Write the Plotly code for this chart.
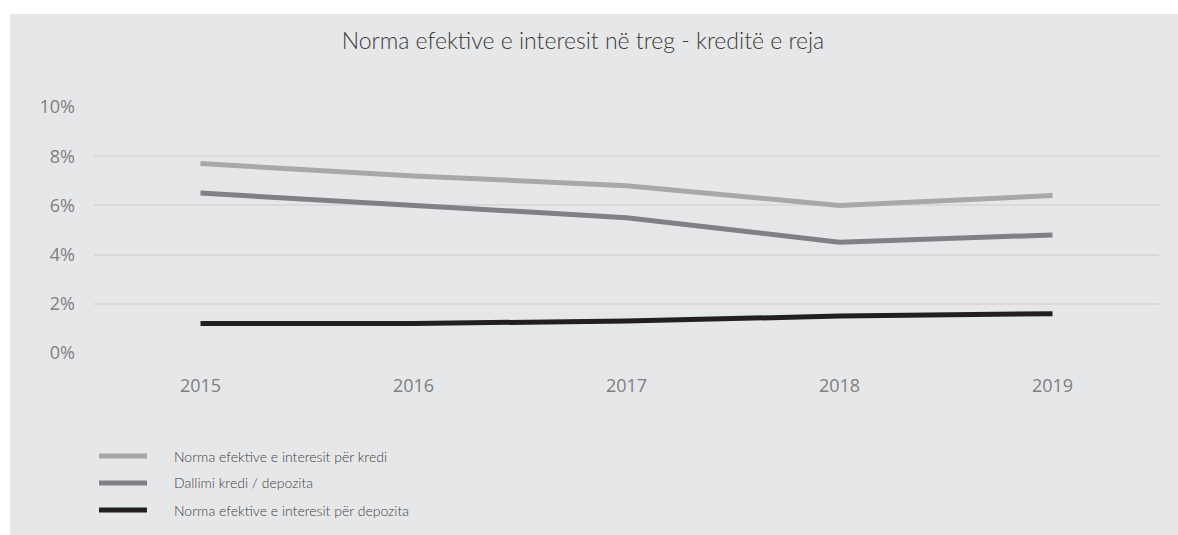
import plotly.graph_objects as go

# Data
years = ["2015", "2016", "2017", "2018", "2019"]
kredi = [7.7, 7.2, 6.8, 6.0, 6.4]          # Norma efektive e interesit për kredi
dallimi = [6.5, 6.0, 5.5, 4.5, 4.8]        # Dallimi kredi / depozita
depozita = [1.2, 1.2, 1.3, 1.5, 1.6]       # Norma efektive e interesit për depozita
y_ticks = [0, 2, 4, 6, 8, 10]
y_tick_labels = ["0%", "2%", "4%", "6%", "8%", "10%"]

series = [
    ("Norma efektive e interesit për kredi", kredi, "#a7a8aa"),
    ("Dallimi kredi / depozita", dallimi, "#808184"),
    ("Norma efektive e interesit për depozita", depozita, "#231f20"),
]

W, H = 1178, 535
L, R, T, B = 94, 1159, 107, 353  # plot area in pixels
BG = "#e6e7e9"


def px_x(px):
    return (px - L) / (R - L)


def px_y(py):
    return (B - py) / (B - T)


fig = go.Figure()
for name, vals, color in series:
    fig.add_trace(go.Scatter(
        x=years, y=vals, mode="lines", name=name,
        line=dict(color=color, width=5),
        showlegend=False,
    ))

shapes = [
    # white border strips around the grey panel
    dict(type="rect", xref="paper", yref="paper", layer="below",
         x0=px_x(-5), x1=px_x(10), y0=px_y(H + 5), y1=px_y(-5),
         fillcolor="white", line=dict(width=0)),
    dict(type="rect", xref="paper", yref="paper", layer="below",
         x0=px_x(-5), x1=px_x(W + 5), y0=px_y(14), y1=px_y(-5),
         fillcolor="white", line=dict(width=0)),
]
annotations = []

# legend rows
rows_y = [456, 483, 510]
for (name, vals, color), ry in zip(series, rows_y):
    shapes.append(dict(
        type="line", xref="paper", yref="paper",
        x0=px_x(99), x1=px_x(147), y0=px_y(ry), y1=px_y(ry),
        line=dict(color=color, width=5),
    ))
    annotations.append(dict(
        xref="paper", yref="paper", x=px_x(172), y=px_y(ry),
        xanchor="left", yanchor="middle", showarrow=False,
        text=name, font=dict(family="Lato", size=14, color="#404040", weight=300),
    ))

fig.update_layout(
    width=W, height=H,
    margin=dict(l=L, r=W - R, t=T, b=H - B, autoexpand=False),
    paper_bgcolor=BG, plot_bgcolor=BG,
    title=dict(
        text="Norma efektive e interesit në treg - kreditë e reja",
        x=583 / W, xref="container", xanchor="center",
        y=1 - 41 / H, yref="container", yanchor="middle",
        font=dict(family="Lato", size=23, color="#3a3a3a", weight=300),
    ),
    xaxis=dict(
        type="category", range=[-0.5, len(years) - 0.5],
        showgrid=False, zeroline=False, showline=False,
        ticks="", ticklabelstandoff=20,
        tickfont=dict(family="Open Sans", size=18, color="#7f7f7f"),
    ),
    yaxis=dict(
        range=[0, 10], tickvals=y_ticks, ticktext=y_tick_labels,
        showgrid=True, gridcolor="#d8d9db", gridwidth=1.5,
        zeroline=False, showline=False, ticks="", ticklabelstandoff=18,
        tickfont=dict(family="Open Sans", size=18, color="#7f7f7f"),
    ),
    shapes=shapes,
    annotations=annotations,
    showlegend=False,
)

fig.write_html("out.html")
